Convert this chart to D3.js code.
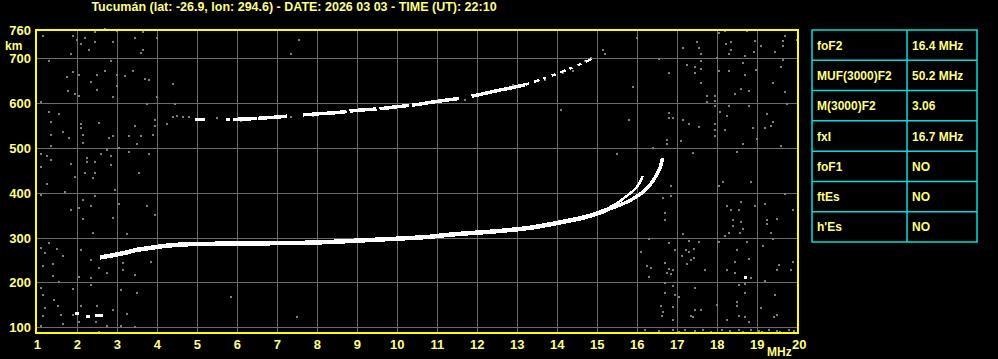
<!DOCTYPE html>
<html>
<head>
<meta charset="utf-8">
<script src="https://cdn.jsdelivr.net/npm/d3@7"></script>
<style>
  body { margin: 0; background: #000; }
  svg { display: block; }
  text { font-family: "Liberation Sans", Arial, sans-serif; font-weight: bold; fill: #ffff80; }
</style>
</head>
<body>
<svg width="998" height="359"></svg>
<script>
// ionogram header + axes
const title = 'Tucumán (lat: -26.9, lon: 294.6) - DATE: 2026 03 03 - TIME (UT): 22:10'
const freqTicks = d3.range(1, 21)
const heightTicks = [100, 200, 300, 400, 500, 600, 700]

// parameter table
const paramNames = ['foF2', 'MUF(3000)F2', 'M(3000)F2', 'fxI', 'foF1', 'ftEs', "h'Es"]
const paramValues = ['16.4 MHz', '50.2 MHz', '3.06', '16.7 MHz', 'NO', 'NO', 'NO']

// traces [MHz, km]
const lowerTrace = [[2.57,256],[2.85,260],[3.19,266],[3.45,272],[3.82,277],[4.24,282],[5.0,286],[6.3,287],[7.9,289],
  [9.15,294],[10.07,298],[10.82,302],[11.24,306],[12.57,315],[13.32,322],[14.07,334],[14.57,343],[14.9,351],[15.24,362]]
const cuspOuter = [[15.24,362],[15.57,373],[15.82,383],[16.02,394],[16.19,405],[16.32,418],[16.43,432],[16.51,445],[16.59,462],[16.63,477]]
const cuspInner = [[15.2,362],[15.32,368],[15.53,379],[15.69,390],[15.84,400],[15.97,411],[16.07,424],[16.14,438]]
const upperTrace = [[4.94,563],[5.5,564],[6.0,564],[6.5,566],[7.0,569],[7.5,573],[8.0,576],[8.5,579],[9.0,584],[9.5,587],
  [10.0,592],[10.5,597],[11.0,604],[11.5,610],[12.0,618],[12.5,628],[13.0,637],[13.2,641]]
const upperTail = [[13.2,641],[13.5,650],[14.0,666],[14.5,684],[14.9,700]]
const upperGray = [[4.5,571],[4.65,570],[4.8,569],[5.5,566],[6.1,561],[7.9,571],[9.05,585],[11.7,608],[12.9,640],
  [13.7,652],[14.15,668],[14.4,672],[14.7,694],[14.85,700],[4.4,569],[7.35,570]]
const eEchoes = [[1.93,2.03,130],[2.22,2.32,124],[2.45,2.65,127]]

// scattered noise [MHz, km]
const noiseLeft = [[1.34,505],[2.14,511],[3.49,508],[1.09,486],[1.24,481],[1.34,473],[1.84,465],[2.24,477],[2.24,468],
  [2.45,468],[2.59,486],[2.74,495],[2.84,483],[2.84,463],[3.04,499],[3.29,490],[3.8,486],[1.09,458],[2.2,445],[2.45,445],
  [1.95,435],[2.39,432],[1.24,420],[3.54,445],[2.95,407],[1.7,402],[1.09,394],[2.14,383],[2.45,393],[1.84,362],[2.04,365],
  [2.34,371],[3.04,375],[2.14,341],[2.89,344],[3.74,371],[3.95,350],[2.39,311],[3.24,307],[1.29,287],[1.09,277],[1.18,265],
  [1.49,275],[2.09,272],[1.64,258],[1.39,242],[1.14,236],[2.34,249],[2.55,232],[3.15,244],[3.15,227],[3.84,245],[3.45,217],
  [2.04,213],[2.34,210],[2.74,222],[1.39,215],[1.54,200],[1.09,187],[1.15,172],[1.43,162],[1.9,185],[2.34,195],[3.09,183],
  [3.49,177],[1.51,147],[1.2,142],[2.09,147],[2.49,147],[2.9,138],[3.24,129],[1.14,125],[1.59,127],[1.9,127],[2.04,112],
  [2.47,112],[1.64,107],[1.09,102],[2.74,102],[3.09,102],[3.45,100],[2.54,89],[5.83,168],[7.48,122]]
const noiseTop = [[1.14,750],[1.89,750],[1.99,741],[2.09,733],[2.2,746],[2.43,758],[2.45,737],[2.7,765],[2.89,737],
  [2.99,762],[3.45,746],[3.64,758],[3.64,718],[3.59,711],[3.99,746],[2.29,718],[1.84,709],[1.29,693],[2.84,693],[1.89,669],
  [1.74,658],[2.04,662],[2.49,662],[2.68,671],[2.34,648],[2.99,662],[3.18,660],[3.39,671],[3.7,653],[3.8,651],[2.99,639],
  [2.49,630],[1.76,626],[1.95,620],[2.04,617],[2.9,613],[3.99,613],[4.39,643],[7.54,741],[7.34,709],[1.09,603],[3.74,598],
  [4.45,598],[1.29,581],[1.54,575],[1.34,558],[2.09,553],[2.09,545],[2.54,556],[3.45,549],[3.93,562],[3.95,549],[4.24,553],
  [1.34,530],[1.64,535],[1.8,523],[2.14,530],[2.79,523],[2.9,526],[3.29,526],[3.59,526],[3.89,530]]
const noiseUpperRight = [[15.14,718],[15.19,709],[15.99,746],[16.54,698],[16.78,667],[15.89,635],[17.44,763],[17.49,737],
  [17.55,723],[17.15,723],[17.59,709],[17.59,693],[17.24,684],[17.44,681],[17.59,677],[17.44,667],[17.59,645],[18.03,756],
  [18.19,760],[18.22,732],[18.34,737],[18.34,718],[18.3,709],[17.99,700],[18.05,671],[18.3,671],[18.64,690],[18.69,705],
  [18.69,662],[18.74,762],[18.94,739],[18.92,714],[18.97,675],[19.09,728],[19.44,714],[19.64,739],[19.64,728],[19.69,750],
  [19.98,741],[19.64,696],[19.59,681],[19.39,644],[19.69,624],[18.8,626],[18.59,632],[18.44,620],[17.74,617],[17.94,617],
  [17.94,605],[17.74,603],[17.94,594],[18.07,581],[18.3,594],[18.24,572],[18.8,594],[19.75,598],[19.25,575],[19.39,558],
  [19.34,549],[19.19,545],[18.89,545],[18.19,540],[17.94,553],[17.94,540],[17.94,526],[17.53,547],[17.3,553],[17.15,562],
  [16.78,577],[16.78,567],[16.9,567],[15.8,562],[14.09,585],[16.74,517],[16.74,508],[17.09,515],[16.39,500],[15.49,486],
  [17.39,489],[18.64,508],[18.49,490],[18.99,519],[19.59,504]]
const noiseLowerRight = [[16.84,416],[16.64,388],[16.84,393],[16.69,356],[16.69,340],[17.14,307],[18.03,416],[18.14,425],
  [18.84,425],[19.69,398],[18.25,371],[18.34,362],[18.55,362],[18.59,380],[18.94,371],[19.19,375],[18.4,340],[18.59,335],
  [18.4,326],[18.64,320],[19.24,340],[19.24,330],[19.49,341],[19.89,362],[19.34,310],[19.4,296],[18.19,304],[18.3,310],
  [18.57,310],[16.28,298],[16.8,289],[17.3,292],[17.53,290],[18.03,290],[18.75,290],[19.14,281],[17.22,272],[17.42,275],
  [16.94,272],[17.11,260],[17.3,267],[17.42,255],[17.34,251],[17.24,242],[18.49,272],[18.8,253],[18.44,245],[16.09,267],
  [16.69,244],[16.25,237],[16.34,232],[16.78,230],[16.9,227],[16.84,219],[16.74,222],[17.69,227],[18.25,227],[18.44,222],
  [18.84,210],[19.19,204],[19.49,227],[19.55,240],[19.89,245],[19.84,227],[16.3,212],[16.69,198],[16.89,192],[17.44,187],
  [18.55,195],[18.69,197],[18.69,177],[16.69,177],[16.94,172],[17.05,168],[18.0,149],[18.5,157],[18.5,147],[19.44,172],
  [19.09,142],[16.9,146],[16.59,147],[16.64,134],[17.44,138],[17.59,138],[17.34,125],[17.39,122],[16.89,117],[16.61,125],
  [18.25,116],[18.55,125],[18.69,122],[18.8,112],[19.42,122],[19.49,127],[16.19,95],[16.53,92],[16.9,95],[17.03,90],
  [17.19,95],[17.44,92],[17.65,95],[17.84,90],[18.11,95],[18.32,92],[18.55,95],[18.65,90],[18.84,95],[19.05,92],[19.11,90],
  [19.28,95],[19.49,92],[19.57,90],[19.78,95],[19.92,92]]
const whiteDots = [[18.69,213]]

const svg = d3.select('svg')

const x = d3.scaleLinear().domain([1, 20]).range([37.3, 797.3])
const y = d3.scaleLinear().domain([100, 760]).range([327.3, 31.4])

const frame = { left: 36, right: 798, top: 30, bottom: 333 }

svg.append('rect').attr('width', 998).attr('height', 359).attr('fill', '#000')

// grid
const grid = svg.append('g').attr('stroke', '#6c6c6c').attr('stroke-width', 1).attr('shape-rendering', 'crispEdges')
grid.selectAll('line.v').data(freqTicks.slice(1, -1)).enter().append('line')
  .attr('x1', d => Math.round(x(d)) + 0.5).attr('x2', d => Math.round(x(d)) + 0.5)
  .attr('y1', frame.top).attr('y2', frame.bottom)
grid.selectAll('line.h').data(heightTicks).enter().append('line')
  .attr('x1', frame.left).attr('x2', frame.right)
  .attr('y1', d => Math.round(y(d)) + 0.5).attr('y2', d => Math.round(y(d)) + 0.5)

// noise
const allNoise = noiseLeft.concat(noiseTop, noiseUpperRight, noiseLowerRight, upperGray)
svg.append('g').selectAll('rect').data(allNoise).enter().append('rect')
  .attr('x', d => Math.round(x(d[0])) - 1).attr('y', d => Math.round(y(d[1])) - 1)
  .attr('width', 2).attr('height', 2).attr('fill', '#808080')

svg.append('g').selectAll('rect').data(whiteDots).enter().append('rect')
  .attr('x', d => Math.round(x(d[0])) - 1).attr('y', d => Math.round(y(d[1])) - 1)
  .attr('width', 3).attr('height', 3).attr('fill', '#fff')

// traces
const line = d3.line().x(d => x(d[0])).y(d => y(d[1])).curve(d3.curveMonotoneX)

function trace(data, width, dash, color) {
  svg.append('path').datum(data)
    .attr('d', line)
    .attr('fill', 'none')
    .attr('stroke', color || '#fff')
    .attr('stroke-width', width)
    .attr('stroke-dasharray', dash || null)
    .attr('shape-rendering', 'crispEdges')
}

trace(lowerTrace, 4.5)
trace(cuspOuter, 3.5)
trace(cuspInner, 2.5)
trace(upperTrace, 3.5, '10,21,4,3,24,1,29,16,44,3,27,3,30,3,47,13,60,100')
trace(upperTail, 2.5, '4,5,6,4,3,6')

svg.append('g').selectAll('line').data(eEchoes).enter().append('line')
  .attr('x1', d => x(d[0])).attr('x2', d => x(d[1]))
  .attr('y1', d => y(d[2])).attr('y2', d => y(d[2]))
  .attr('stroke', '#fff').attr('stroke-width', 3).attr('shape-rendering', 'crispEdges')

// frame
svg.append('rect')
  .attr('x', frame.left).attr('y', frame.top)
  .attr('width', frame.right - frame.left).attr('height', frame.bottom - frame.top)
  .attr('fill', 'none').attr('stroke', '#ffff00').attr('stroke-width', 2)

// labels
svg.append('text').attr('x', 294).attr('y', 11).attr('text-anchor', 'middle')
  .style('font-size', '12.5px').text(title)

svg.selectAll('text.ylab').data(heightTicks.concat([760])).enter().append('text')
  .attr('x', 31).attr('y', d => d === 760 ? 35 : y(d) + 5).attr('text-anchor', 'end')
  .style('font-size', '13px').text(d => d)
svg.append('text').attr('x', 5).attr('y', 50).style('font-size', '12px').text('km')

svg.selectAll('text.xlab').data(freqTicks).enter().append('text')
  .attr('x', d => x(d) + (d === 20 ? 2 : 0)).attr('y', 349).attr('text-anchor', 'middle')
  .style('font-size', '13px').text(d => d)
svg.append('text').attr('x', 767).attr('y', 356).style('font-size', '12px').text('MHz')

// table
const table = { left: 812, mid: 907, right: 977, top: 30, bottom: 242 }
const rowH = (table.bottom - table.top) / paramNames.length
const tg = svg.append('g')
tg.append('rect').attr('x', table.left).attr('y', table.top)
  .attr('width', table.right - table.left).attr('height', table.bottom - table.top)
  .attr('fill', 'none').attr('stroke', '#00e0e0').attr('stroke-width', 1.5)
tg.append('line').attr('x1', table.mid).attr('x2', table.mid).attr('y1', table.top).attr('y2', table.bottom)
  .attr('stroke', '#00e0e0').attr('stroke-width', 1.5)
tg.selectAll('line.row').data(d3.range(1, paramNames.length)).enter().append('line')
  .attr('x1', table.left).attr('x2', table.right)
  .attr('y1', i => table.top + i * rowH).attr('y2', i => table.top + i * rowH)
  .attr('stroke', '#00e0e0').attr('stroke-width', 1.5)
tg.selectAll('text.name').data(paramNames).enter().append('text')
  .attr('x', table.left + 5).attr('y', (d, i) => table.top + (i + 0.5) * rowH + 4.5)
  .style('font-size', '12px').text(d => d)
tg.selectAll('text.val').data(paramValues).enter().append('text')
  .attr('x', table.mid + 5).attr('y', (d, i) => table.top + (i + 0.5) * rowH + 4.5)
  .style('font-size', '12px').text(d => d)
</script>
</body>
</html>
